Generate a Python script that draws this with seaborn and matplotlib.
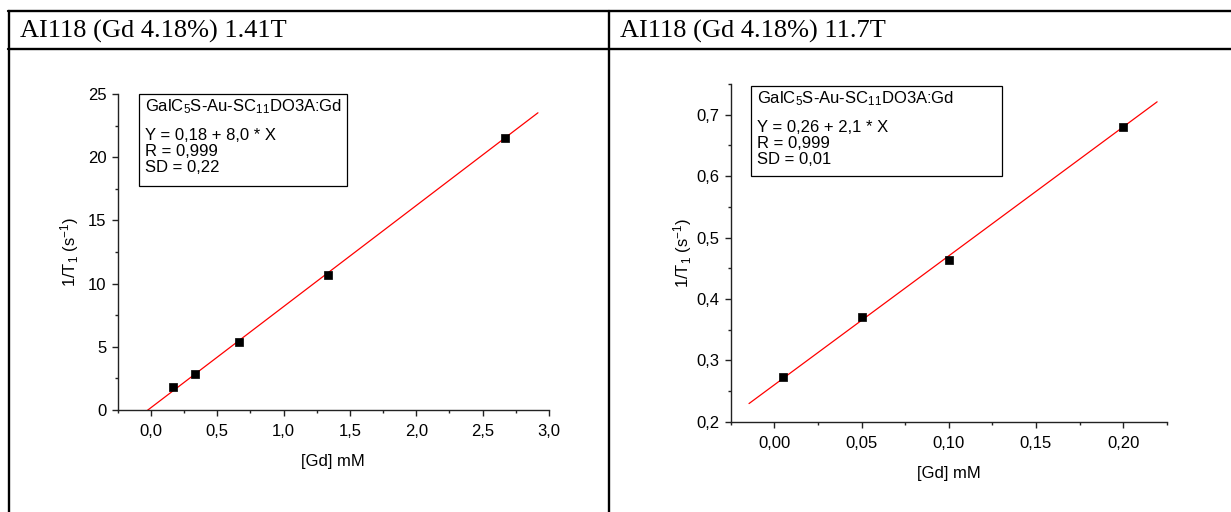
import numpy as np
import pandas as pd
import matplotlib
matplotlib.use("Agg")
import matplotlib.pyplot as plt
import seaborn as sns
from matplotlib.ticker import MultipleLocator, FuncFormatter
from matplotlib.patches import Rectangle
from matplotlib.lines import Line2D

# Relaxation rate vs Gd concentration, 1.41 T
conc_141 = [0.1667, 0.3333, 0.6667, 1.3333, 2.6667]
rate_141 = [1.80, 2.85, 5.35, 10.70, 21.50]
fit_141 = (0.18, 8.0)          # intercept, slope

# Relaxation rate vs Gd concentration, 11.7 T
conc_117 = [0.005, 0.05, 0.10, 0.20]
rate_117 = [0.273, 0.370, 0.464, 0.680]
fit_117 = (0.26, 2.1)

titles = ["AI118 (Gd 4.18%) 1.41T", "AI118 (Gd 4.18%) 11.7T"]
sample_name = r"GalC$_5$S-Au-SC$_{11}$DO3A:Gd"
legend_141 = ["Y = 0,18 + 8,0 * X", "R = 0,999", "SD = 0,22"]
legend_117 = ["Y = 0,26 + 2,1 * X", "R = 0,999", "SD = 0,01"]
x_label = "[Gd] mM"
y_label = r"1/T$_1$ (s$^{-1}$)"

sns.set_theme(style="ticks")
plt.rcParams["font.family"] = ["Liberation Sans", "DejaVu Sans"]
plt.rcParams["mathtext.fontset"] = "custom"
plt.rcParams["mathtext.rm"] = "Liberation Sans"
plt.rcParams["mathtext.it"] = "Liberation Sans:italic"
plt.rcParams["mathtext.bf"] = "Liberation Sans:bold"

W, H = 1231, 512
fig = plt.figure(figsize=(W / 100, H / 100), dpi=100)
fig.patch.set_facecolor("white")


def fx(x):
    return x / W


def fy(y):
    return 1 - y / H


# table frame
frame_kw = dict(color="black", lw=1.7, transform=fig.transFigure)
fig.add_artist(Line2D([fx(8), 1], [fy(11), fy(11)], **frame_kw))
fig.add_artist(Line2D([fx(8), 1], [fy(49), fy(49)], **frame_kw))
fig.add_artist(Line2D([fx(9), fx(9)], [fy(11), 0], **frame_kw))
fig.add_artist(Line2D([fx(609), fx(609)], [fy(11), 0], **frame_kw))

for tx, t in zip([20, 620], titles):
    fig.text(fx(tx), fy(31), t, family="Liberation Serif", fontsize=19,
             ha="left", va="center", color="black")


def comma(decimals):
    return FuncFormatter(lambda v, p: f"{v:.{decimals}f}".replace(".", ","))


def panel(rect, xs, ys, fit, xlim, ylim, xmaj, xmin, ymaj, ymin, xdec, ydec,
          ylabelpad, box, lines):
    ax = fig.add_axes(rect)
    df = pd.DataFrame({"x": xs, "y": ys})
    span = max(xs) - min(xs)
    xf = np.array([min(xs) - 0.1 * span, max(xs) + 0.1 * span])
    fit_df = pd.DataFrame({"x": xf, "y": fit[0] + fit[1] * xf})
    sns.lineplot(data=fit_df, x="x", y="y", ax=ax, color="red", lw=0.9,
                 zorder=2)
    sns.scatterplot(data=df, x="x", y="y", ax=ax, marker="s", s=40,
                    color="black", edgecolor="black", linewidth=0.5, zorder=3)
    ax.set_xlim(*xlim)
    ax.set_ylim(*ylim)
    ax.xaxis.set_major_locator(MultipleLocator(xmaj))
    ax.xaxis.set_minor_locator(MultipleLocator(xmin))
    ax.yaxis.set_major_locator(MultipleLocator(ymaj))
    ax.yaxis.set_minor_locator(MultipleLocator(ymin))
    ax.xaxis.set_major_formatter(comma(xdec))
    ax.yaxis.set_major_formatter(comma(ydec))
    for s in ["top", "right"]:
        ax.spines[s].set_visible(False)
    for s in ["left", "bottom"]:
        ax.spines[s].set_color("#222222")
        ax.spines[s].set_linewidth(1.0)
    ax.tick_params(which="major", direction="out", length=4, width=1.0,
                   color="#222222", labelsize=12, labelcolor="black")
    ax.tick_params(which="minor", direction="out", length=2.5, width=1.0,
                   color="#222222")
    ax.tick_params(axis="x", which="major", pad=6)
    ax.tick_params(axis="y", which="major", pad=4)
    ax.set_xlabel(x_label, fontsize=12, labelpad=11, color="black")
    ax.set_ylabel(y_label, fontsize=12, labelpad=ylabelpad, color="black")
    ax.set_facecolor("white")
    ax.grid(False)

    bx0, by0, bx1, by1 = box
    fig.add_artist(Rectangle((fx(bx0), fy(by1)), fx(bx1 - bx0),
                             (by1 - by0) / H, transform=fig.transFigure,
                             facecolor="white", edgecolor="black", lw=0.9,
                             zorder=5))
    offsets = [12.5, 41, 57, 73]
    texts = [sample_name] + lines
    for off, t in zip(offsets, texts):
        fig.text(fx(bx0 + 6), fy(by0 + off), t, fontsize=12, ha="left",
                 va="center", color="black", zorder=6)
    return ax


panel([fx(117.7), fy(410), (549 - 117.7) / W, (410 - 94) / H],
      conc_141, rate_141, fit_141, (-0.25, 3.0), (0, 25),
      0.5, 0.25, 5, 2.5, 1, 0, 5,
      (139, 94, 347, 186), legend_141)

panel([fx(730.7), fy(421.7), (1166.7 - 730.7) / W, (421.7 - 84) / H],
      conc_117, rate_117, fit_117, (-0.025, 0.225), (0.2, 0.75),
      0.05, 0.025, 0.1, 0.05, 2, 1, 2,
      (751, 86, 1002, 176), legend_117)

fig.savefig("out.png", dpi=100, facecolor="white")
